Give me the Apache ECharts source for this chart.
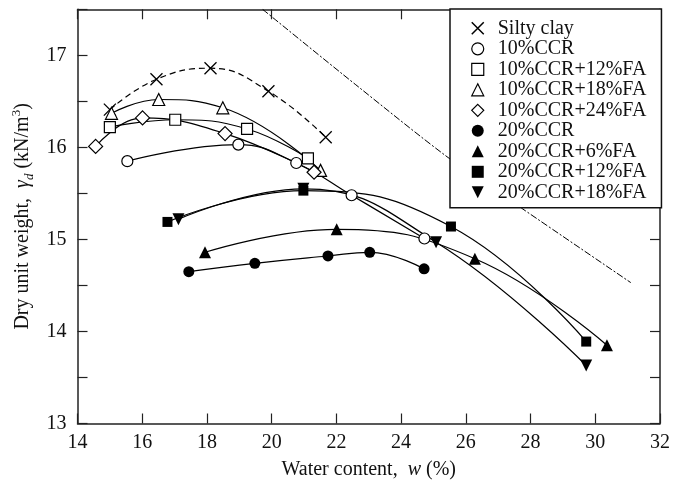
<!DOCTYPE html>
<html><head><meta charset="utf-8">
<script src="https://cdn.jsdelivr.net/npm/echarts@6/dist/echarts.min.js"></script>
<style>html,body{margin:0;padding:0;background:#fff}#c{width:673px;height:488px}</style>
</head><body><div id="c"></div>
<script>
// Data: [water content %, dry unit weight kN/m3]
const siltyClay = [[15.0,16.41],[16.44,16.74],[18.11,16.86],[19.90,16.61],[21.67,16.11]];
const ccr10     = [[15.54,15.85],[18.97,16.03],[20.76,15.83],[22.47,15.48],[24.72,15.01]];
const ccr10fa12 = [[15.0,16.22],[17.02,16.30],[19.24,16.20],[21.12,15.88]];
const ccr10fa18 = [[15.05,16.37],[16.51,16.52],[18.49,16.43],[21.51,15.75]];
const ccr10fa24 = [[14.56,16.01],[16.01,16.32],[18.56,16.15],[21.31,15.73]];
const ccr20     = [[17.44,14.65],[19.48,14.74],[21.74,14.82],[23.03,14.86],[24.71,14.68]];
const ccr20fa6  = [[17.94,14.86],[22.01,15.11],[26.28,14.79],[30.36,13.85]];
const ccr20fa12 = [[16.78,15.19],[20.98,15.53],[25.54,15.14],[29.72,13.89]];
const ccr20fa18 = [[17.12,15.22],[20.98,15.55],[25.08,14.97],[29.72,13.63]];
const zavLine   = [[19.72,17.5],[22.6,16.68],[25.45,15.89],[27.72,15.34],[31.1,14.53]];

const seriesNames = ['Silty clay','10%CCR','10%CCR+12%FA','10%CCR+18%FA','10%CCR+24%FA',
  '20%CCR','20%CCR+6%FA','20%CCR+12%FA','20%CCR+18%FA'];
const xTicks = {min:14, max:32, interval:2};
const yTicks = {min:13, max:17.5, interval:0.5};

const FONT = '"Liberation Serif","Times New Roman",serif';
const CROSS = 'path://M0,0L10,10M10,0L0,10';
const openStyle = {color:'#fff', borderColor:'#000', borderWidth:1.2};
const fillStyle = {color:'#000', borderColor:'#000', borderWidth:0};
const crossStyle = {color:'#000', borderColor:'#000', borderWidth:1.3};

const defs = [
  {data:siltyClay, symbol:CROSS, size:12, st:crossStyle, dashed:true},
  {data:ccr10, symbol:'circle', size:11, st:openStyle},
  {data:ccr10fa12, symbol:'rect', size:11, st:openStyle},
  {data:ccr10fa18, symbol:'triangle', size:12, st:openStyle},
  {data:ccr10fa24, symbol:'diamond', size:14, st:openStyle},
  {data:ccr20, symbol:'circle', size:11, st:fillStyle},
  {data:ccr20fa6, symbol:'triangle', size:12, st:fillStyle},
  {data:ccr20fa12, symbol:'rect', size:10, st:fillStyle},
  {data:ccr20fa18, symbol:'triangle', size:12, st:fillStyle, rot:180},
];

const series = defs.map((d,i)=>({
  name: seriesNames[i], type:'line', data:d.data, smooth:0.45,
  symbol:d.symbol, symbolSize:d.size, symbolRotate:d.rot||0,
  itemStyle:d.st,
  lineStyle:{color:'#000', width:1.2, type: d.dashed ? [6,4] : 'solid'},
  emphasis:{disabled:true}, animation:false, z:3
}));
series.push({
  name:'ZAV', type:'line', data:zavLine, smooth:0.3, symbol:'none',
  lineStyle:{color:'#000', width:1, type:[7,2,2,2]}, animation:false, z:2
});

const legendIcons = defs.map((d,i)=>({
  name: seriesNames[i],
  icon: d.symbol,
  itemStyle: d.st === openStyle ? {color:'#fff', borderColor:'#000', borderWidth:1.2}
           : d.st === crossStyle ? {color:'#000', borderColor:'#000', borderWidth:1.5}
           : {color:'#000', borderWidth:0}
}));
legendIcons[8].icon = 'path://M0,0L10,0L5,10Z';

const chart = echarts.init(document.getElementById('c'), null, {renderer:'canvas'});
const axisLine = {show:true, lineStyle:{color:'#222', width:1.5}};
chart.setOption({
  backgroundColor:'#fff',
  animation:false,
  grid:{left:77.5, right:10.5, top:9.3, bottom:64.5, containLabel:false},
  legend:{
    data:legendIcons, orient:'vertical', left:450, top:9,
    backgroundColor:'#fff', borderColor:'#111', borderWidth:1.5,
    padding:[9.3,15,5.5,21], itemWidth:12, itemHeight:12, itemGap:0.5,
    textStyle:{fontFamily:FONT, fontSize:20, color:'#111', lineHeight:20, padding:[0,0,0,9]},
    selectedMode:false, z:10
  },
  xAxis:[{
    type:'value', min:xTicks.min, max:xTicks.max, interval:xTicks.interval,
    axisLine, axisTick:{inside:true, length:10, lineStyle:{color:'#222', width:1.2}},
    splitLine:{show:false},
    axisLabel:{fontFamily:FONT, fontSize:20, color:'#111', margin:9},
    name:'Water content,  {i|w} (%)', nameLocation:'middle', nameGap:36,
    nameTextStyle:{fontFamily:FONT, fontSize:20, color:'#111',
      rich:{i:{fontFamily:FONT, fontSize:20, fontStyle:'italic', color:'#111'}}}
  },{
    type:'value', position:'top', min:xTicks.min, max:xTicks.max, interval:xTicks.interval,
    axisLine, axisTick:{inside:true, length:10, lineStyle:{color:'#222', width:1.2}},
    axisLabel:{show:false}, splitLine:{show:false}
  }],
  yAxis:[{
    type:'value', min:yTicks.min, max:yTicks.max, interval:yTicks.interval,
    axisLine, axisTick:{inside:true, length:10, lineStyle:{color:'#222', width:1.2}},
    splitLine:{show:false},
    axisLabel:{fontFamily:FONT, fontSize:20, color:'#111', margin:11,
      formatter:v => Number.isInteger(v) ? String(v) : ''},
    name:'Dry unit weight,  {g|γ}{d|d} (kN/m{s|3})', nameLocation:'middle', nameGap:38,
    nameTextStyle:{fontFamily:FONT, fontSize:20, color:'#111', lineHeight:26,
      rich:{
        g:{fontFamily:FONT, fontSize:20, fontStyle:'italic', color:'#111', lineHeight:26},
        d:{fontFamily:FONT, fontSize:13, fontStyle:'italic', color:'#111', lineHeight:12, verticalAlign:'bottom'},
        s:{fontFamily:FONT, fontSize:13, color:'#111', lineHeight:14, verticalAlign:'top'}
      }}
  },{
    type:'value', position:'right', min:yTicks.min, max:yTicks.max, interval:yTicks.interval,
    axisLine, axisTick:{inside:true, length:10, lineStyle:{color:'#222', width:1.2}},
    axisLabel:{show:false}, splitLine:{show:false}
  }],
  series
});
</script></body></html>
